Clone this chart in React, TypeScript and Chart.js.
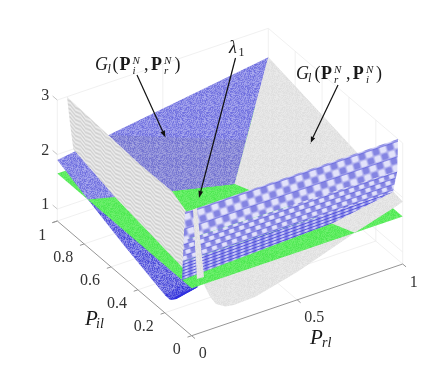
import React, { useEffect, useRef } from "react";
import { Chart, registerables } from "chart.js";

Chart.register(...registerables);

// Axis ticks
const prTicks = [0, 0.5, 1];
const piTicks = [0, 0.2, 0.4, 0.6, 0.8, 1];
const zTicks = [1, 2, 3];
const zFloor = 0.78;
const zTop = 3;

// Surface vertices as [Pr, Pi, value]
const lambdaLevel = 1.65;
const lambdaPlane = [[0, 0, lambdaLevel], [1, 0, lambdaLevel], [1, 1, lambdaLevel], [0, 1, lambdaLevel]];

const grayEdgeR = [0.054, 0.063, 0.087, 0.115, 0.16, 0.2, 0.3, 0.5, 0.773, 1];
const grayEdgeZ = [1.72, 1.59, 1.38, 1.21, 1.105, 1.08, 1.096, 1.29, 1.65, 1.92];
const grayBulge = [
  ...grayEdgeR.map((r, k) => [r, 0, grayEdgeZ[k]]),
  [1, 1, 2.47],
  [0.04, 0.035, 3],
];
const grayUpper = [[1, 1, 2.47], [1, 0, 1.92], [1, 0.072, 1.65], [0.773, 0, 1.65], [0.56, 0.56, 1.65]];

const blueEdgeI = [0.773, 0.5, 0.3, 0.2, 0.16, 0.115];
const blueEdgeZ = [1.65, 1.374, 1.195, 1.107, 1.105, 1.21];
const blueLower = [
  ...blueEdgeI.map((i, k) => [0, i, blueEdgeZ[k]]),
  [0.102, 0.114, 1.3],
  [0.5, 0.5, 1.3],
];
const blueTip = [[0, 0.2, 1.107], [0, 0.16, 1.105], [0, 0.115, 1.21], [0.102, 0.114, 1.3], [0.05, 0.16, 1.3]];
const blueRim = [[0, 0.16, 1.105], [0, 0.115, 1.21], [0.102, 0.114, 1.3], [0.06, 0.13, 1.25]];
const blueUpper = [
  [0, 1, 1.9], [1, 1, 2.47], [0.56, 0.56, 1.65], [0.32, 0.648, 1.65], [0.1026, 0.732, 1.65], [0, 0.773, 1.65],
];
const blueShade = [
  [0.24, 1, 2.04], [0.712, 0.712, 1.934], [0.56, 0.56, 1.65], [0.32, 0.648, 1.65], [0.1026, 0.732, 1.65],
];
const grayWall = [
  [0.046, 1, 3], [0.06, 1, 2.5], [0.076, 1, 1.995], [0.1026, 0.732, 1.65], [0.084, 0.517, 1.65], [0.051, 0.145, 1.65],
  [0.04, 0.07, 2.5], [0.04, 0.105, 2.795], [0.04, 0.209, 2.94], [0.04, 0.447, 2.93],
];
const blueWallTop = [[0, 0.05, 2.95], [0.015, 0.03, 3], [1, 0.035, 3], [1, 0.04, 2.4], [0, 0.06, 2.4]];
const blueWallMid = [[0, 0.06, 2.4], [1, 0.04, 2.4], [0.989, 0.055, 2], [0, 0.066, 2]];
const blueWallLow = [[0, 0.066, 2], [0.989, 0.055, 2], [0.738, 0.108, 1.65], [0.103, 0.0777, 1.65], [0, 0.0724, 1.65]];
const graySliver = [[0.025, 0.0297, 3], [0.0446, 0.0306, 3], [0.0866, 0.0444, 1.65], [0.0549, 0.0468, 1.65]];

// Annotation arrows: from, to
const arrows = [
  [[137, 75], [165.5, 137.5]],
  [[235.5, 58], [199, 198]],
  [[338, 85], [310, 143.5]],
];

const project = (r: number, i: number, z: number) => ({
  x: 191.7 + 211 * r - 134.4 * i,
  y: 335.7 - 71.7 * r - 114.7 * i - 54.5 * (z - zFloor),
});

function makeTile(w: number, h: number, shade: (x: number, y: number, n: number) => number[]) {
  const c = document.createElement("canvas");
  c.width = w;
  c.height = h;
  const g = c.getContext("2d")!;
  const img = g.createImageData(w, h);
  let s = 12345;
  for (let y = 0; y < h; y++) {
    for (let x = 0; x < w; x++) {
      s = (Math.imul(s, 1103515245) + 12345) & 0x7fffffff;
      const n = ((s >> 12) & 255) / 255;
      const [cr, cg, cb] = shade(x, y, n);
      const k = (y * w + x) * 4;
      img.data[k] = cr;
      img.data[k + 1] = cg;
      img.data[k + 2] = cb;
      img.data[k + 3] = 255;
    }
  }
  g.putImageData(img, 0, 0);
  return c;
}

function pattern(ctx: CanvasRenderingContext2D, tile: HTMLCanvasElement, m?: number[]) {
  const p = ctx.createPattern(tile, "repeat")!;
  if (m) p.setTransform(new DOMMatrix([m[0], m[1], m[2], m[3], 0, 0]));
  return p;
}

const mix = (a: number[], b: number[], t: number) => a.map((v, k) => Math.round(v + (b[k] - v) * t));

type Run = { t: string; x: number; y: number; f: string; c?: string; a?: CanvasTextAlign };

const SERIF = '"Liberation Serif", serif';
const mathRuns = (x: number[], y: number, a: string, b: string): Run[] => [
  { t: "G", x: x[0], y, f: `italic 18px ${SERIF}` },
  { t: "l", x: x[1], y: y + 3, f: `italic 12px ${SERIF}` },
  { t: "(", x: x[2], y, f: `18px ${SERIF}` },
  { t: "P", x: x[3], y, f: `bold 18px ${SERIF}` },
  { t: "N", x: x[4], y: y - 6.5, f: `italic 11px ${SERIF}` },
  { t: a, x: x[4], y: y + 4, f: `italic 11px ${SERIF}` },
  { t: ",", x: x[5], y, f: `18px ${SERIF}` },
  { t: "P", x: x[6], y, f: `bold 18px ${SERIF}` },
  { t: "N", x: x[7], y: y - 6.5, f: `italic 11px ${SERIF}` },
  { t: b, x: x[7], y: y + 4, f: `italic 11px ${SERIF}` },
  { t: ")", x: x[8], y, f: `18px ${SERIF}` },
];

const titleRuns: Run[] = [
  ...mathRuns([95, 107.5, 112.5, 119.5, 132.5, 144, 151, 164, 174.5], 70, "i", "r"),
  ...mathRuns([296, 308, 314.5, 321, 334, 346, 352.7, 366, 376], 79, "r", "i"),
  { t: "λ", x: 229, y: 53, f: `italic 18px ${SERIF}` },
  { t: "1", x: 238.5, y: 56, f: `12px ${SERIF}` },
  { t: "P", x: 85, y: 325, f: `italic 21px ${SERIF}` },
  { t: "il", x: 96, y: 328, f: `italic 14px ${SERIF}` },
  { t: "P", x: 310, y: 344, f: `italic 21px ${SERIF}` },
  { t: "rl", x: 322, y: 347, f: `italic 14px ${SERIF}` },
];

const tickRuns = (): Run[] => {
  const out: Run[] = [];
  const f = `16px ${SERIF}`;
  const c = "#333333";
  piTicks.forEach((v) => {
    const p = project(0, v, zFloor);
    out.push({ t: String(v), x: p.x - 11, y: p.y + 18.5, f, c, a: "right" });
  });
  prTicks.forEach((v) => {
    const p = project(v, 0, zFloor);
    out.push({ t: String(v), x: p.x + 7, y: p.y + 22.5, f, c, a: "left" });
  });
  zTicks.forEach((v) => {
    const p = project(0, 1, v);
    out.push({ t: String(v), x: p.x - 8, y: p.y + 0, f, c, a: "right" });
  });
  return out;
};

export default function App() {
  const ref = useRef<HTMLCanvasElement>(null);
  useEffect(() => {
    const canvas = ref.current!;
    const ctx = canvas.getContext("2d")!;

    const blueTile = makeTile(24, 24, (_x, _y, n) => mix([108, 108, 222], [170, 170, 238], n));
    const blueDarkTile = makeTile(24, 24, (_x, _y, n) => mix([112, 112, 208], [164, 164, 224], n));
    const blueLowTile = makeTile(24, 24, (_x, _y, n) => mix([72, 72, 216], [156, 156, 236], n));
    const blueTipTile = makeTile(24, 24, (_x, _y, n) => mix([50, 50, 216], [120, 120, 232], n));
    const greenTile = makeTile(24, 24, (_x, _y, n) => mix([76, 232, 80], [112, 240, 112], n));
    const grayTile = makeTile(24, 24, (_x, _y, n) => mix([222, 222, 222], [234, 234, 234], n));
    const wallTile = makeTile(10, 4, (x, y) => {
      const tri = Math.abs((x / 10) * 2 - 1);
      const v = Math.sin(((y + tri * 2) / 4) * Math.PI * 2);
      const g = 222 + 16 * v;
      return [g, g, g];
    });
    const softCheck = (cell: number, lineEvery: number, lineMix: number) => (x: number, y: number) => {
      const raw = 0.5 + 1.3 * Math.sin((Math.PI * (x + 0.5)) / cell) * Math.sin((Math.PI * (y + 0.5)) / cell);
      const t = Math.min(1, Math.max(0, raw));
      const base = mix([132, 132, 226], [226, 226, 250], t);
      return y % lineEvery === 0 ? mix(base, [70, 70, 216], lineMix) : base;
    };
    const wallTopTile = makeTile(14, 14, softCheck(7, 14, 0.5));
    const wallMidTile = makeTile(10, 10, softCheck(5, 5, 0.55));
    const wallLowTile = makeTile(8, 3, (x, y) => {
      const t = 0.5 + 0.5 * Math.sin((Math.PI * 2 * x) / 8);
      const base = mix([128, 128, 230], [206, 206, 246], t);
      return y === 0 ? mix(base, [64, 64, 216], 0.8) : base;
    });

    const skewR = [1, -0.34, 0.28, 1];
    const skewLow = [1, -0.36, 0, 1];
    const skewWall = [1, 0.85, 0, 1];

    const datasets: any[] = [];
    const line = (pts: number[][], color: string, width = 0.8) =>
      datasets.push({
        data: pts.map((q) => project(q[0], q[1], q[2])),
        showLine: true,
        borderColor: color,
        borderWidth: width,
        pointRadius: 0,
        fill: false,
      });
    const surface = (pts: number[][], bg: any) =>
      datasets.push({
        data: pts.map((q) => project(q[0], q[1], q[2])),
        showLine: true,
        borderWidth: 0,
        borderColor: "transparent",
        backgroundColor: bg,
        pointRadius: 0,
        fill: "shape",
      });

    // Box and grid
    const gridC = "#ececec";
    line([[0, 1, zFloor], [0, 1, zTop]], gridC);
    line([[1, 1, zFloor], [1, 1, zTop]], gridC);
    line([[1, 0, zFloor], [1, 0, zTop]], gridC);
    line([[0, 1, zFloor], [1, 1, zFloor]], gridC);
    line([[1, 0, zFloor], [1, 1, zFloor]], gridC);
    zTicks.forEach((z) => {
      line([[0, 1, z], [1, 1, z]], gridC);
      line([[1, 1, z], [1, 0, z]], gridC);
    });
    prTicks.slice(1, -1).forEach((r) => {
      line([[r, 0, zFloor], [r, 1, zFloor]], gridC);
      line([[r, 1, zFloor], [r, 1, zTop]], gridC);
    });
    piTicks.slice(1, -1).forEach((i) => {
      line([[0, i, zFloor], [1, i, zFloor]], gridC);
      line([[1, i, zFloor], [1, i, zTop]], gridC);
    });
    // Axis lines and tick marks
    const axisC = "#969696";
    line([[0, 0, zFloor], [0, 1, zFloor]], axisC, 1);
    line([[0, 0, zFloor], [1, 0, zFloor]], axisC, 1);
    line([[0, 1, zFloor], [-0.025, 1, zFloor]], axisC, 1);
    piTicks.forEach((i) => line([[0, i, zFloor], [-0.02, i, zFloor]], axisC, 1));
    prTicks.forEach((r) => line([[r, 0, zFloor], [r, -0.025, zFloor]], axisC, 1));
    zTicks.forEach((z) => line([[0, 1, z], [0, 1.035, z]], "#c4c4c4", 1));

    // Surfaces, back to front
    surface(grayBulge, pattern(ctx, grayTile));
    surface(blueLower, pattern(ctx, blueLowTile));
    surface(blueTip, pattern(ctx, blueTipTile));
    surface(blueRim, "#2f2fe0");
    surface(lambdaPlane, pattern(ctx, greenTile));
    surface(blueUpper, pattern(ctx, blueTile));
    surface(blueShade, pattern(ctx, blueDarkTile));
    surface(grayUpper, pattern(ctx, grayTile));
    surface(grayWall, pattern(ctx, wallTile, skewWall));
    surface(blueWallTop, pattern(ctx, wallTopTile, skewR));
    surface(blueWallMid, pattern(ctx, wallMidTile, skewR));
    surface(blueWallLow, pattern(ctx, wallLowTile, skewLow));
    surface(graySliver, pattern(ctx, grayTile));

    // Arrows
    arrows.forEach(([a, b]) => {
      const dx = b[0] - a[0];
      const dy = b[1] - a[1];
      const len = Math.hypot(dx, dy);
      const ux = dx / len;
      const uy = dy / len;
      const bx = b[0] - ux * 7;
      const by = b[1] - uy * 7;
      datasets.push({
        data: [{ x: a[0], y: a[1] }, { x: bx, y: by }],
        showLine: true,
        borderColor: "#111111",
        borderWidth: 1.2,
        pointRadius: 0,
        fill: false,
      });
      datasets.push({
        data: [
          { x: b[0], y: b[1] },
          { x: bx - uy * 2.4, y: by + ux * 2.4 },
          { x: bx + uy * 2.4, y: by - ux * 2.4 },
        ],
        showLine: true,
        borderWidth: 0,
        borderColor: "transparent",
        backgroundColor: "#111111",
        pointRadius: 0,
        fill: "shape",
      });
    });

    const n = datasets.length;
    datasets.forEach((d, k) => {
      d.order = n - k;
    });

    const runs = [...tickRuns(), ...titleRuns];
    const textPlugin = {
      id: "mathText",
      afterDatasetsDraw(chart: any) {
        const c = chart.ctx;
        const sx = chart.scales.x;
        const sy = chart.scales.y;
        c.save();
        c.textBaseline = "alphabetic";
        runs.forEach((run) => {
          c.font = run.f;
          c.fillStyle = run.c || "#1a1a1a";
          c.textAlign = run.a || "left";
          c.fillText(run.t, sx.getPixelForValue(run.x), sy.getPixelForValue(run.y));
        });
        c.restore();
      },
    };

    const chart = new Chart(canvas, {
      type: "scatter",
      data: { datasets },
      plugins: [textPlugin],
      options: {
        animation: false,
        responsive: false,
        events: [],
        layout: { padding: 0 },
        elements: { line: { tension: 0, borderCapStyle: "butt" } },
        scales: {
          x: { type: "linear", display: false, min: 0, max: 445 },
          y: { type: "linear", display: false, min: 0, max: 378, reverse: true },
        },
        plugins: {
          legend: { display: false },
          tooltip: { enabled: false },
          title: { display: false },
        },
      },
    } as any);
    return () => chart.destroy();
  }, []);

  return (
    <div style={{ position: "absolute", left: 0, top: 0, width: 445, height: 378, background: "#ffffff" }}>
      <canvas ref={ref} width={445} height={378} style={{ display: "block" }} />
    </div>
  );
}
